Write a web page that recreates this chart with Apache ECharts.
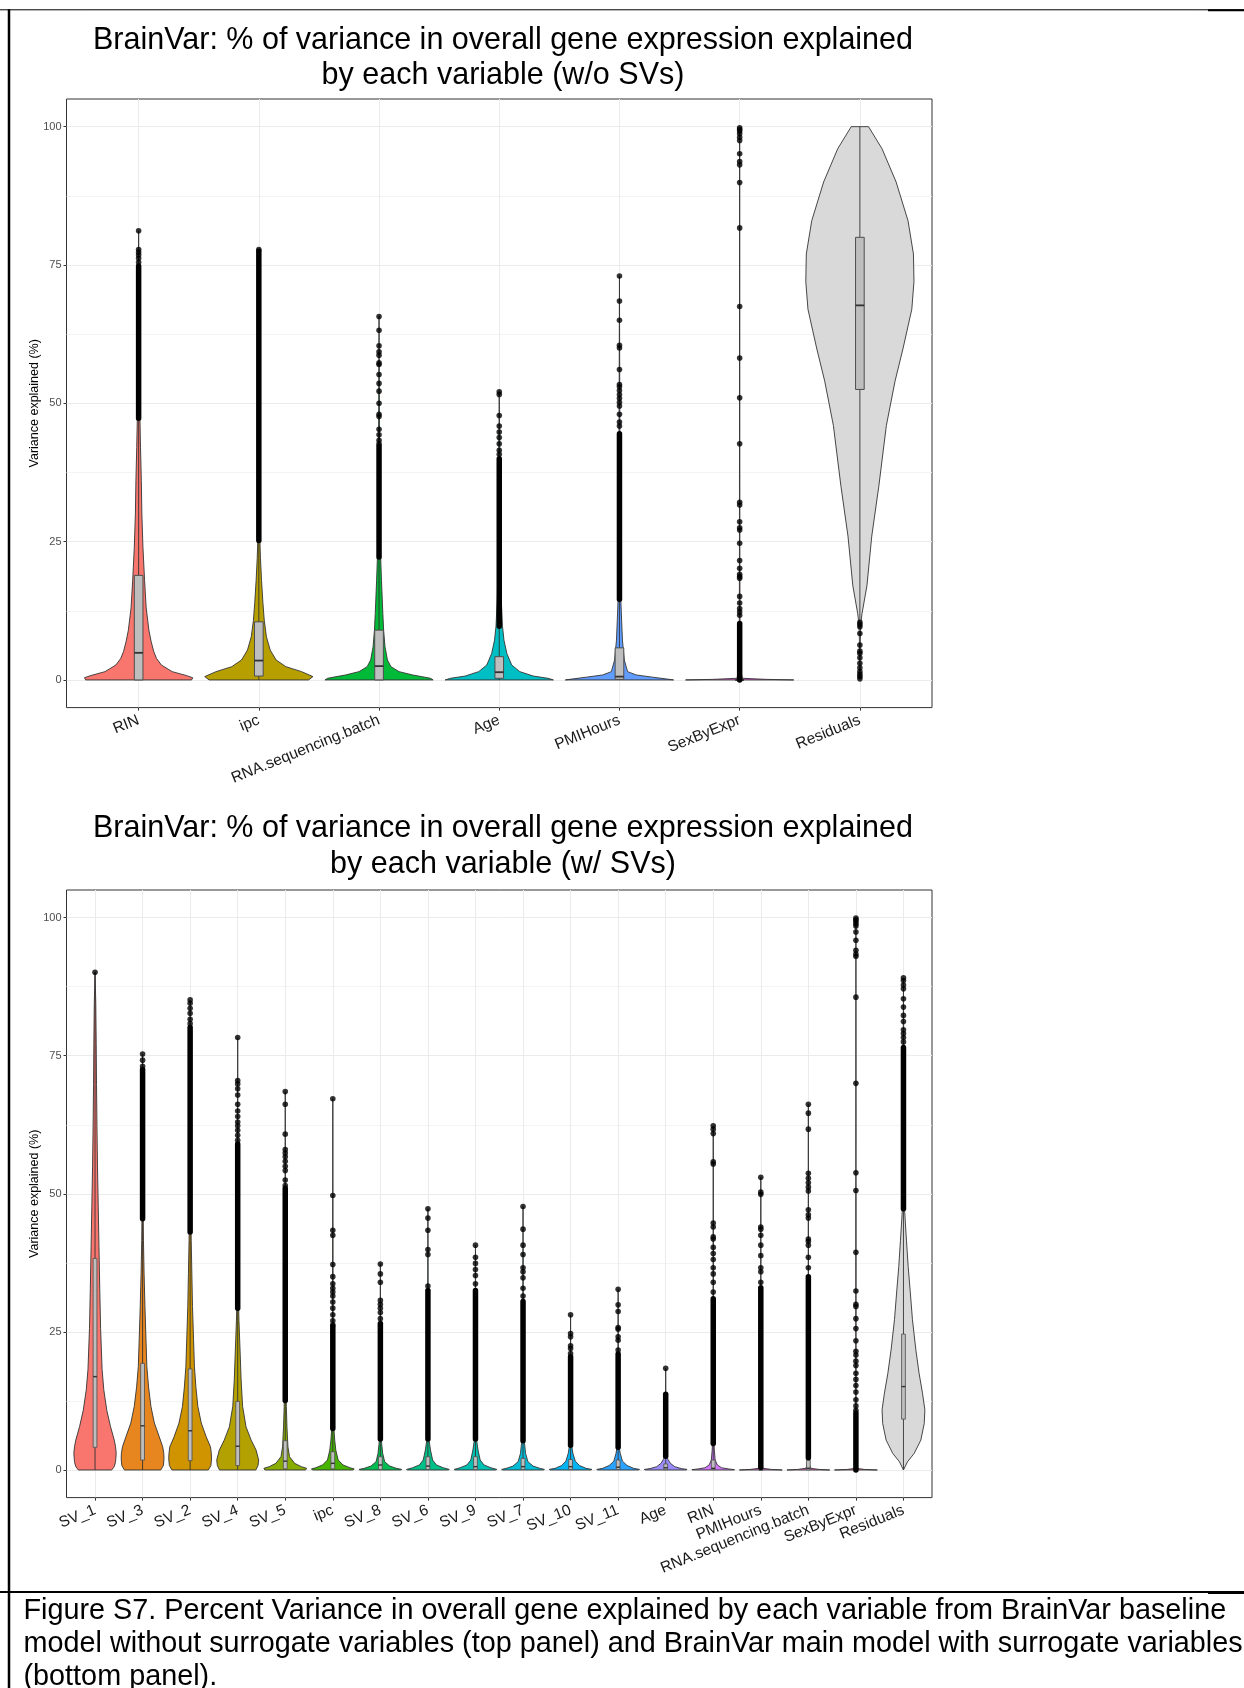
<!DOCTYPE html>
<html><head><meta charset="utf-8">
<script src="https://cdn.jsdelivr.net/npm/echarts@6/dist/echarts.min.js"></script>
<style>html,body{margin:0;padding:0;background:#fff}#c{width:1244px;height:1688px}</style>
</head><body><div id="c"></div>
<script>
// ---------------- DATA ----------------
const yTicks = [0, 25, 50, 75, 100];
const yMinor = [12.5, 37.5, 62.5, 87.5];

// Top panel (w/o SVs)
const topCats = ['RIN','ipc','RNA.sequencing.batch','Age','PMIHours','SexByExpr','Residuals'];
// violin outlines: [value, relative half-width]
const topViolins = [
  [[0,0.98],[0.4,1],[0.8,0.88],[1.5,0.62],[2.7,0.42],[3.9,0.33],[5.1,0.28],[7,0.23],[9,0.19],[13,0.14],[18,0.11],[24,0.08],[30,0.06],[36,0.05],[42,0.035],[47,0.025],[55,0.015],[65,0.01],[75,0.005],[81.2,0]],
  [[0,0.92],[0.6,1],[1.5,0.79],[2.4,0.5],[3.6,0.32],[5.4,0.21],[7.8,0.14],[10.8,0.1],[14,0.075],[18,0.05],[22,0.03],[25,0.02],[40,0.012],[60,0.006],[77.8,0]],
  [[0,1],[0.3,0.95],[0.9,0.62],[1.5,0.37],[2.4,0.22],[3.6,0.155],[6,0.11],[9,0.085],[12,0.07],[18,0.045],[22.2,0.03],[32,0.015],[45,0.008],[65.8,0]],
  [[0,1],[0.3,0.9],[0.7,0.63],[1.5,0.38],[2.7,0.23],[4.8,0.14],[7.2,0.087],[9.7,0.06],[15,0.035],[25,0.02],[40,0.01],[52.2,0]],
  [[0,1],[0.2,0.85],[0.5,0.61],[0.9,0.31],[1.5,0.15],[3.6,0.09],[7.2,0.055],[10.8,0.04],[14.6,0.025],[30,0.012],[50,0.006],[73,0]],
  [[0,1],[0.1,0.5],[0.3,0.05],[2,0.01],[20,0.004],[99.8,0]],
  [[0.3,0],[5,0.004],[10,0.015],[12,0.04],[17,0.13],[26,0.22],[35,0.35],[46,0.49],[54,0.65],[60,0.8],[67,0.96],[72,1],[77,0.99],[83,0.89],[90,0.67],[96,0.41],[100,0.16]]
];
// boxes: [lower whisker, Q1, median, Q3, upper whisker]
const topBoxes = [
  [0, 0, 4.9, 18.9, 47.3],
  [0, 0.7, 3.5, 10.5, 25.2],
  [0, 0, 2.5, 9.0, 22.2],
  [0, 0.3, 1.4, 4.2, 9.7],
  [0, 0.1, 0.6, 5.8, 14.6],
  [0, 0, 0, 0, 0],
  [10.5, 52.5, 67.7, 80.0, 100]
];
// outliers drawn so densely they form a solid column: [from, to]
const topDense = [
  [[47.3, 74.8]], [[25.2, 77.5]], [[22.2, 42.3]], [[9.7, 40]], [[14.6, 44.5]], [[0, 10.2]], []
];
// separate outlier dots
const topDots = [
  [75.5, 76.2, 76.8, 77.3, 77.8, 81.2],
  [77.8],
  [42.7, 43.3, 44.3, 45.3, 47.6, 48, 50, 52.2, 53.6, 55.2, 57, 57.3, 58.7, 59.3, 60.4, 63.2, 65.7],
  [40.8, 41.5, 42.7, 43.8, 44.8, 45.9, 47.8, 51.6, 52.1],
  [45.9, 46.6, 48, 49.5, 50.2, 50.9, 51.6, 52.3, 53, 53.4, 56.1, 60, 60.5, 65, 68.5, 73],
  [11.7, 12.3, 12.9, 13.9, 15.1, 18.4, 18.7, 19.1, 20.2, 21.6, 24.7, 27.1, 27.5, 28.6, 31.6, 32.1, 42.7, 51.0, 58.2, 67.5, 81.7, 89.9, 93.1, 93.7, 95.1, 97.5, 98.1, 98.7, 99.2, 99.5, 99.8],
  [0.2, 0.6, 1.0, 1.5, 2.2, 3.0, 4.0, 4.8, 5.2, 6.3, 8.4, 9.6, 10.0, 10.4]
];

// Bottom panel (w/ SVs)
const botCats = ['SV_1','SV_3','SV_2','SV_4','SV_5','ipc','SV_8','SV_6','SV_9','SV_7','SV_10','SV_11','Age','RIN','PMIHours','RNA.sequencing.batch','SexByExpr','Residuals'];
const botViolins = [
  [[0,0.78],[0.6,0.9],[1.5,0.96],[3,0.99],[4.2,0.96],[5.4,0.9],[7.9,0.72],[10.8,0.55],[14.5,0.41],[18.2,0.33],[25.6,0.26],[32.9,0.22],[40.3,0.185],[47.7,0.15],[55,0.115],[62.4,0.09],[69.8,0.07],[77.2,0.055],[84.5,0.035],[90.1,0]],
  [[0,0.85],[0.8,0.97],[2,1],[3,0.99],[4.2,0.94],[6,0.78],[8.5,0.55],[11.5,0.39],[15,0.28],[18.7,0.2],[23.5,0.16],[29.6,0.11],[35.6,0.07],[41.6,0.04],[45.5,0.03],[55,0.02],[65,0.01],[75.3,0]],
  [[0,0.85],[0.8,0.97],[2,1],[3,0.99],[4.2,0.95],[6,0.75],[8.5,0.52],[11.5,0.36],[15,0.27],[18.7,0.2],[23.5,0.16],[29.6,0.11],[35.6,0.08],[41.6,0.05],[43.1,0.045],[55,0.025],[70,0.012],[85.1,0]],
  [[0,0.85],[0.8,0.95],[1.8,0.98],[3.6,0.86],[5.4,0.63],[7.8,0.39],[11.5,0.23],[16.3,0.16],[21.7,0.11],[27,0.06],[29.3,0.045],[40,0.025],[55,0.015],[65,0.008],[78.3,0]],
  [[0,0.95],[0.3,1],[0.6,0.75],[1.2,0.44],[2.4,0.2],[4.2,0.125],[7.8,0.08],[11.5,0.05],[12.6,0.045],[25,0.02],[45,0.01],[68.5,0]],
  [[0,0.95],[0.2,1],[0.4,0.8],[0.9,0.48],[1.8,0.25],[3.6,0.14],[5.4,0.09],[7.5,0.05],[15,0.025],[30,0.012],[50,0.005],[67.2,0]],
  [[0,0.95],[0.1,1],[0.3,0.75],[0.7,0.44],[1.5,0.2],[3,0.11],[4.8,0.06],[5.6,0.05],[15,0.02],[37.4,0]],
  [[0,0.95],[0.1,1],[0.4,0.72],[0.9,0.4],[1.8,0.22],[3.6,0.12],[5.1,0.065],[5.6,0.055],[20,0.015],[47.3,0]],
  [[0,0.95],[0.1,1],[0.4,0.72],[0.9,0.4],[1.8,0.22],[3.6,0.12],[5.1,0.065],[5.6,0.055],[20,0.015],[40.7,0]],
  [[0,0.95],[0.1,1],[0.3,0.78],[0.7,0.47],[1.5,0.23],[3,0.12],[4.8,0.07],[5.3,0.06],[20,0.015],[47.7,0]],
  [[0,0.95],[0.1,1],[0.3,0.72],[0.8,0.42],[1.6,0.22],[3,0.11],[4.2,0.06],[4.5,0.055],[15,0.015],[28.1,0]],
  [[0,0.95],[0.1,1],[0.3,0.72],[0.8,0.42],[1.6,0.2],[3,0.1],[4.1,0.05],[15,0.015],[32.7,0]],
  [[0,0.95],[0.1,1],[0.25,0.73],[0.6,0.42],[1.2,0.22],[1.9,0.11],[2.4,0.05],[2.5,0.045],[10,0.012],[18.4,0]],
  [[0,0.95],[0.05,1],[0.2,0.7],[0.4,0.39],[0.9,0.19],[1.8,0.09],[3.6,0.05],[4.8,0.04],[20,0.012],[40,0.006],[62.3,0]],
  [[0,1],[0.1,0.5],[0.3,0.1],[1,0.03],[10,0.01],[53,0]],
  [[0,1],[0.1,0.5],[0.3,0.12],[1,0.05],[2,0.03],[10,0.01],[66.2,0]],
  [[0,1],[0.1,0.4],[0.3,0.03],[5,0.006],[99.9,0]],
  [[0,0],[1.5,0.19],[3,0.5],[5.4,0.81],[8.4,0.97],[10.9,1],[13.9,0.89],[17.5,0.73],[21.7,0.58],[27.2,0.42],[32.6,0.31],[36.8,0.22],[41.6,0.14],[44,0.1],[47.3,0.05],[60,0.025],[75,0.012],[89.1,0]]
];
const botBoxes = [
  [0, 4.1, 16.9, 38.3, 90.1],
  [0, 1.8, 8.0, 19.3, 45.5],
  [0, 1.7, 7.1, 18.3, 43.1],
  [0, 0.8, 4.3, 12.4, 29.3],
  [0, 0.2, 1.6, 5.3, 12.6],
  [0, 0.2, 1.2, 3.3, 7.5],
  [0, 0.1, 0.9, 2.4, 5.6],
  [0, 0.1, 0.7, 2.4, 5.6],
  [0, 0.1, 0.6, 2.4, 5.6],
  [0, 0.1, 0.6, 2.1, 5.3],
  [0, 0.1, 0.6, 1.9, 4.5],
  [0, 0.1, 0.5, 1.8, 4.1],
  [0, 0.05, 0.4, 1.1, 2.5],
  [0, 0.05, 0.3, 1.8, 4.8],
  [0, 0, 0.05, 0.2, 0.5],
  [0, 0, 0.3, 1.8, 4.5],
  [0, 0, 0, 0, 0],
  [0, 9.2, 15.1, 24.6, 47.3]
];
const botDense = [
  [], [[45.5, 72.5]], [[43.1, 80.1]], [[29.3, 59]], [[12.6, 51]], [[7.5, 26]], [[5.6, 26.5]], [[5.6, 32.5]], [[5.6, 32.5]],
  [[5.3, 30.5]], [[4.5, 20.5]], [[4.1, 21]], [[2.5, 13.7]], [[4.8, 31]], [[0.5, 33]], [[2.2, 35]], [[0, 10.3]], [[47.3, 76.5]]
];
const botDots = [
  [90.1],
  [73.1, 74.2, 75.3],
  [80.8, 81.6, 82.7, 83.6, 84.5, 85.1],
  [59.7, 60.6, 61.5, 62.3, 63, 64, 65, 66.2, 67.9, 69, 69.9, 70.5, 78.3],
  [51.5, 52.5, 54.2, 55, 55.9, 56.7, 57.4, 58, 60.8, 66.2, 68.5],
  [26.3, 27, 28.1, 29.3, 30.4, 31.5, 32.2, 32.9, 33.7, 35, 37.2, 42.5, 43.4, 49.7, 67.2],
  [27.4, 28.5, 29.3, 30, 30.7, 34, 35.5, 37.3],
  [33.3, 39, 39.9, 43.4, 45.6, 47.3],
  [33.7, 35.2, 36.3, 37.4, 38.5, 40.7],
  [31.5, 32.9, 34.8, 35.9, 36.6, 39, 40.7, 43.6, 47.7],
  [21.1, 22, 22.5, 24.1, 24.7, 28.1],
  [21.7, 23.5, 24.1, 25.5, 25.8, 28.7, 29.9, 32.7],
  [18.4],
  [32.2, 34, 35.5, 36.6, 38.1, 39.2, 40.3, 41.8, 42.2, 44, 44.7, 55.4, 55.8, 60.9, 61.7, 62.3],
  [34, 35.9, 36.6, 38.8, 40.7, 42.5, 43.6, 44, 49.9, 50.3, 53],
  [36.6, 38.5, 40.7, 41.4, 41.8, 45.6, 46.2, 47.1, 50.5, 51.2, 52, 52.8, 53.7, 61.7, 64.6, 66.2],
  [10.8, 11.6, 12.7, 14.1, 15.3, 16.4, 17.5, 18.9, 19.7, 20.8, 21.5, 23.4, 25.6, 27.4, 29.6, 30, 32.4, 39.4, 50.6, 53.8, 70, 85.6, 93, 93.4, 94.1, 95.9, 97.4, 98.5, 98.9, 99.3, 99.6, 99.9],
  [77.5, 78.3, 79, 79.7, 81.2, 82.3, 83.8, 85.3, 87.1, 87.8, 88.6, 89.1]
];

const titleTop = 'BrainVar: % of variance in overall gene expression explained\nby each variable (w/o SVs)';
const titleBot = 'BrainVar: % of variance in overall gene expression explained\nby each variable (w/ SVs)';
const yTitle = 'Variance explained (%)';
const caption = 'Figure S7. Percent Variance in overall gene explained by each variable from BrainVar baseline\nmodel without surrogate variables (top panel) and BrainVar main model with surrogate variables\n(bottom panel).';

// ---------------- STYLE HELPERS ----------------
const FONT = '"Liberation Sans", Arial, Helvetica, sans-serif';
function hcl(h, c, l) {
  const WY = 100, Wu = 0.1978398, Wv = 0.4683363;
  const hr = h * Math.PI / 180, U = c * Math.cos(hr), V = c * Math.sin(hr);
  const Y = WY * (l > 7.999592 ? Math.pow((l + 16) / 116, 3) : l / 903.3);
  const u = U / (13 * l) + Wu, v = V / (13 * l) + Wv;
  const X = 9 * Y * u / (4 * v), Z = -X / 3 - 5 * Y + 3 * Y / v;
  const lin = [(3.240479 * X - 1.537150 * Y - 0.498535 * Z) / WY,
               (-0.969256 * X + 1.875992 * Y + 0.041556 * Z) / WY,
               (0.055648 * X - 0.204043 * Y + 1.057311 * Z) / WY];
  return '#' + lin.map(t => {
    let g = t <= 0.0031308 ? 12.92 * t : 1.055 * Math.pow(t, 1 / 2.4) - 0.055;
    g = Math.max(0, Math.min(1, g));
    return Math.round(g * 255).toString(16).padStart(2, '0');
  }).join('');
}
function huePal(n) { const out = []; for (let i = 0; i < n; i++) out.push(hcl(15 + 360 * i / n, 100, 65)); return out; }
const RES_FILL = '#D9D9D9';
const topColors = huePal(topCats.length - 1).concat([RES_FILL]);
const botColors = huePal(botCats.length - 1).concat([RES_FILL]);

function violinRender(profiles, colors) {
  return function (params, api) {
    const i = api.value(0), p = profiles[i], pts = [];
    for (let k = 0; k < p.length; k++) pts.push(api.coord([i + 0.45 * p[k][1], p[k][0]]));
    for (let k = p.length - 1; k >= 0; k--) pts.push(api.coord([i - 0.45 * p[k][1], p[k][0]]));
    return { type: 'polygon', shape: { points: pts }, style: { fill: colors[i], stroke: '#333333', lineWidth: 0.9 } };
  };
}
function boxRender(boxes, bw, lw) {
  return function (params, api) {
    const i = api.value(0), b = boxes[i];
    const pUp = api.coord([i, b[4]]), pQ3 = api.coord([i, b[3]]), pQ1 = api.coord([i, b[1]]), pLo = api.coord([i, b[0]]);
    const pl = api.coord([i - bw / 2, b[3]]), pr = api.coord([i + bw / 2, b[1]]), pm = api.coord([i, b[2]]);
    return { type: 'group', children: [
      { type: 'line', shape: { x1: pUp[0], y1: pUp[1], x2: pQ3[0], y2: pQ3[1] }, style: { stroke: '#333333', lineWidth: 0.9 } },
      { type: 'line', shape: { x1: pQ1[0], y1: pQ1[1], x2: pLo[0], y2: pLo[1] }, style: { stroke: '#333333', lineWidth: 0.9 } },
      { type: 'rect', shape: { x: pl[0], y: pl[1], width: pr[0] - pl[0], height: pr[1] - pl[1] }, style: { fill: '#BEBEBE', stroke: '#4D4D4D', lineWidth: lw } },
      { type: 'line', shape: { x1: pl[0], y1: pm[1], x2: pr[0], y2: pm[1] }, style: { stroke: '#333333', lineWidth: lw * 1.8 } }
    ] };
  };
}
function denseRender(params, api) {
  const a = api.coord([api.value(0), api.value(1)]), b = api.coord([api.value(0), api.value(2)]);
  return { type: 'line', shape: { x1: a[0], y1: a[1], x2: b[0], y2: b[1] }, style: { stroke: '#000', lineWidth: 5.5, lineCap: 'round' } };
}
function denseData(dense) { const d = []; dense.forEach((arr, i) => arr.forEach(r => d.push([i, r[0], r[1]]))); return d; }
function dotData(dots) { const d = []; dots.forEach((arr, i) => arr.forEach(v => d.push([i, v]))); return d; }

function xAxisFor(grid, cats) {
  const idx = cats.map((c, i) => i);
  return {
    gridIndex: grid, type: 'value', min: -0.6, max: cats.length - 0.4,
    axisLine: { show: false, onZero: false },
    axisTick: { show: true, length: 3, customValues: idx, lineStyle: { color: '#333333', width: 1 } },
    axisLabel: { customValues: idx, formatter: v => cats[Math.round(v)], rotate: 22, fontSize: 15.5, color: '#1a1a1a', margin: 12, fontFamily: FONT },
    splitLine: { show: true, lineStyle: { color: '#EBEBEB', width: 1 } }
  };
}
function yAxesFor(grid) {
  return [{
    gridIndex: grid, type: 'value', min: -5, max: 105, position: 'left',
    name: yTitle, nameLocation: 'middle', nameGap: 25, nameRotate: 90, nameMoveOverlap: false,
    nameTextStyle: { fontSize: 12.5, color: '#000', fontFamily: FONT },
    axisLine: { show: false, onZero: false },
    axisTick: { show: true, length: 3, customValues: yTicks, lineStyle: { color: '#333333' } },
    axisLabel: { customValues: yTicks, fontSize: 11, color: '#4D4D4D', margin: 5, fontFamily: FONT },
    splitLine: { show: true, lineStyle: { color: '#EBEBEB', width: 1 } }
  }, {
    gridIndex: grid, type: 'value', min: -5, max: 105, position: 'right',
    axisLine: { show: false, onZero: false },
    axisTick: { show: false, customValues: yMinor },
    axisLabel: { show: false, customValues: yMinor },
    splitLine: { show: true, lineStyle: { color: '#F1F1F1', width: 0.8 } }
  }];
}
function panelSeries(xi, yi, cats, violins, boxes, dense, dots, colors, bw, lw) {
  const idxData = cats.map((c, i) => [i, 0]);
  const enc = { x: 0, y: 1 };
  return [
    { type: 'custom', xAxisIndex: xi, yAxisIndex: yi, data: idxData, encode: enc, renderItem: violinRender(violins, colors), z: 2, silent: true },
    { type: 'custom', xAxisIndex: xi, yAxisIndex: yi, data: idxData, encode: enc, renderItem: boxRender(boxes, bw, lw), z: 3, silent: true },
    { type: 'custom', xAxisIndex: xi, yAxisIndex: yi, data: denseData(dense), encode: enc, renderItem: denseRender, z: 4, silent: true },
    { type: 'scatter', xAxisIndex: xi, yAxisIndex: yi, data: dotData(dots), symbol: 'circle', symbolSize: 5.6, itemStyle: { color: '#000' }, z: 4, silent: true }
  ];
}

const chart = echarts.init(document.getElementById('c'), null, { renderer: 'canvas', width: 1244, height: 1688 });
chart.setOption({
  backgroundColor: '#fff',
  animation: false,
  textStyle: { fontFamily: FONT },
  grid: [
    { left: 66.5, top: 99, width: 865.5, height: 608.6, show: true, borderColor: '#333333', borderWidth: 1, backgroundColor: 'transparent', containLabel: false, outerBoundsMode: 'none' },
    { left: 66.5, top: 890, width: 865.5, height: 607.6, show: true, borderColor: '#333333', borderWidth: 1, backgroundColor: 'transparent', containLabel: false, outerBoundsMode: 'none' }
  ],
  xAxis: [xAxisFor(0, topCats), xAxisFor(1, botCats)],
  yAxis: yAxesFor(0).concat(yAxesFor(1)),
  series: [].concat(
    panelSeries(0, 0, topCats, topViolins, topBoxes, topDense, topDots, topColors, 0.072, 1),
    panelSeries(1, 2, botCats, botViolins, botBoxes, botDense, botDots, botColors, 0.08, 0.8)
  ),
  graphic: [
    { type: 'text', x: 503, y: 22.5, silent: true, style: { text: titleTop, fontSize: 30.5, fontFamily: FONT, fill: '#000', align: 'center', verticalAlign: 'top', lineHeight: 35.5 } },
    { type: 'text', x: 503, y: 811, silent: true, style: { text: titleBot, fontSize: 30.5, fontFamily: FONT, fill: '#000', align: 'center', verticalAlign: 'top', lineHeight: 35.5 } },
    { type: 'text', x: 23.5, y: 1594.5, silent: true, style: { text: caption, fontSize: 28.8, fontFamily: FONT, fill: '#000', align: 'left', verticalAlign: 'top', lineHeight: 33 } },
    { type: 'line', silent: true, shape: { x1: 0, y1: 9.8, x2: 1244, y2: 9.8 }, style: { stroke: '#000', lineWidth: 1 } },
    { type: 'line', silent: true, shape: { x1: 1208, y1: 10.3, x2: 1244, y2: 10.3 }, style: { stroke: '#000', lineWidth: 2 } },
    { type: 'line', silent: true, shape: { x1: 9, y1: 9.3, x2: 9, y2: 1688 }, style: { stroke: '#000', lineWidth: 2.5 } },
    { type: 'line', silent: true, shape: { x1: 0, y1: 1592, x2: 1244, y2: 1592 }, style: { stroke: '#000', lineWidth: 2 } },
    { type: 'line', silent: true, shape: { x1: 1208, y1: 1592.5, x2: 1244, y2: 1592.5 }, style: { stroke: '#000', lineWidth: 3 } }
  ]
});
</script></body></html>
